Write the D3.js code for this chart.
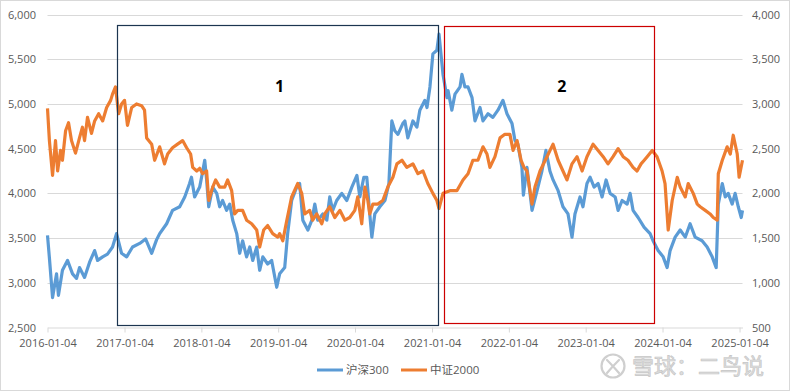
<!DOCTYPE html>
<html>
<head>
<meta charset="utf-8">
<script src="https://cdn.jsdelivr.net/npm/d3@7"></script>
<style>
body { margin: 0; background: #fff; }
text { font-family: "Open Sans", "Noto Sans CJK SC", sans-serif; }
</style>
</head>
<body>
<svg id="chart" width="790" height="391"></svg>
<script>
// 沪深300 (left axis)
var hs300Dates = ["2016-01-04","2016-01-13","2016-01-28","2016-02-16","2016-02-25","2016-03-15","2016-04-08","2016-05-02","2016-05-21","2016-06-04","2016-06-28","2016-07-22","2016-08-15","2016-08-29","2016-09-22","2016-10-15","2016-11-08","2016-11-27","2016-12-21","2017-01-14","2017-02-11","2017-03-17","2017-04-14","2017-05-13","2017-06-05","2017-06-20","2017-07-23","2017-08-20","2017-09-23","2017-10-17","2017-11-09","2017-11-18","2017-12-03","2017-12-27","2018-01-05","2018-01-20","2018-01-29","2018-02-08","2018-02-27","2018-03-18","2018-04-01","2018-04-15","2018-05-04","2018-05-19","2018-06-02","2018-06-21","2018-07-05","2018-07-19","2018-08-07","2018-08-22","2018-09-05","2018-09-24","2018-10-08","2018-10-23","2018-11-15","2018-12-04","2018-12-28","2019-01-11","2019-02-04","2019-02-18","2019-03-09","2019-04-02","2019-04-16","2019-05-01","2019-05-25","2019-06-13","2019-06-27","2019-07-11","2019-08-04","2019-08-23","2019-09-06","2019-09-20","2019-10-09","2019-11-02","2019-11-26","2019-12-20","2020-01-13","2020-01-27","2020-02-15","2020-02-29","2020-03-14","2020-03-24","2020-04-07","2020-05-01","2020-05-25","2020-06-13","2020-06-27","2020-07-11","2020-07-26","2020-08-18","2020-08-28","2020-09-11","2020-10-05","2020-10-24","2020-11-07","2020-12-01","2020-12-11","2020-12-25","2021-01-08","2021-01-27","2021-02-06","2021-02-20","2021-02-25","2021-03-16","2021-03-21","2021-04-08","2021-04-23","2021-05-17","2021-05-26","2021-06-09","2021-06-24","2021-07-13","2021-07-27","2021-08-20","2021-09-03","2021-09-27","2021-10-20","2021-11-13","2021-12-07","2021-12-26","2022-01-19","2022-02-02","2022-02-16","2022-03-07","2022-03-14","2022-03-31","2022-04-24","2022-05-18","2022-06-10","2022-06-29","2022-07-18","2022-08-02","2022-08-26","2022-09-18","2022-10-12","2022-10-31","2022-11-14","2022-12-08","2022-12-22","2023-01-10","2023-01-25","2023-02-13","2023-03-04","2023-03-23","2023-04-11","2023-04-30","2023-05-24","2023-06-07","2023-06-26","2023-07-20","2023-08-03","2023-08-17","2023-09-10","2023-10-09","2023-11-06","2023-11-20","2023-12-14","2024-01-07","2024-01-26","2024-02-09","2024-03-04","2024-03-28","2024-04-21","2024-05-14","2024-06-07","2024-07-10","2024-08-03","2024-08-27","2024-09-15","2024-09-25","2024-10-14","2024-10-28","2024-11-11","2024-11-30","2024-12-14","2024-12-29","2025-01-12","2025-01-18"];
var hs300Values = [3530,3280,2835,3100,2860,3140,3250,3100,3050,3170,3060,3230,3360,3250,3290,3320,3400,3550,3330,3290,3400,3440,3490,3330,3480,3550,3660,3810,3850,3960,4110,4180,3960,4070,4180,4370,4150,3850,4070,4000,3850,3920,3810,3880,3700,3550,3330,3470,3290,3400,3250,3400,3140,3290,3210,3250,2950,3100,3170,3550,3920,4070,4110,3700,3590,3700,3880,3700,3770,3700,3960,3810,3920,4000,3920,4070,4200,3960,4180,4180,3770,3510,3770,3850,3920,4110,4810,4700,4660,4780,4810,4620,4810,4740,4930,5040,4960,5190,5560,5600,5780,5450,5330,5070,5150,4930,5110,5190,5330,5190,5190,5070,4810,4960,4810,4890,4850,4930,5040,4890,4780,4590,4550,4290,3980,4290,3810,4030,4250,4480,4250,4150,4030,3850,3770,3510,3770,3960,3850,4110,4180,4070,4110,3960,4150,4000,3960,3810,3920,3880,4000,3810,3730,3620,3550,3470,3360,3290,3170,3360,3510,3590,3510,3660,3510,3470,3400,3290,3170,3880,4110,3960,4000,3880,4000,3850,3730,3810];

// 中证2000 (right axis)
var zz2000Dates = ["2016-01-04","2016-01-13","2016-01-28","2016-02-11","2016-02-21","2016-03-06","2016-03-15","2016-03-30","2016-04-13","2016-04-27","2016-05-16","2016-06-04","2016-06-18","2016-06-28","2016-07-12","2016-07-31","2016-08-15","2016-09-03","2016-09-22","2016-10-11","2016-10-30","2016-11-08","2016-11-22","2016-12-07","2016-12-21","2017-01-04","2017-01-18","2017-02-07","2017-03-02","2017-03-26","2017-04-09","2017-04-19","2017-05-13","2017-05-27","2017-06-20","2017-07-13","2017-07-28","2017-08-20","2017-09-13","2017-10-07","2017-10-26","2017-11-14","2017-11-24","2017-12-13","2017-12-27","2018-01-10","2018-01-29","2018-02-08","2018-02-27","2018-03-13","2018-04-01","2018-04-25","2018-05-09","2018-05-28","2018-06-11","2018-06-26","2018-07-19","2018-08-07","2018-08-31","2018-09-24","2018-10-08","2018-10-27","2018-11-15","2018-12-09","2019-01-02","2019-01-11","2019-01-26","2019-02-14","2019-03-09","2019-04-07","2019-04-26","2019-05-10","2019-06-03","2019-06-17","2019-07-06","2019-07-30","2019-08-13","2019-09-06","2019-09-30","2019-10-24","2019-11-17","2019-12-10","2020-01-03","2020-01-17","2020-02-05","2020-02-20","2020-03-05","2020-03-14","2020-03-29","2020-04-21","2020-05-15","2020-06-08","2020-07-02","2020-07-21","2020-08-14","2020-09-06","2020-10-05","2020-10-29","2020-11-22","2020-12-15","2021-01-08","2021-01-27","2021-02-06","2021-02-25","2021-03-30","2021-05-02","2021-05-31","2021-06-24","2021-07-17","2021-08-10","2021-09-03","2021-09-22","2021-10-06","2021-10-30","2021-11-23","2021-12-16","2022-01-09","2022-01-24","2022-02-12","2022-03-03","2022-03-17","2022-03-31","2022-04-24","2022-05-08","2022-06-01","2022-07-04","2022-08-02","2022-08-26","2022-09-18","2022-10-07","2022-10-31","2022-11-24","2022-12-18","2023-01-10","2023-02-08","2023-03-04","2023-03-28","2023-04-20","2023-05-14","2023-06-07","2023-07-01","2023-07-24","2023-08-17","2023-09-05","2023-09-24","2023-10-09","2023-10-23","2023-11-16","2023-12-09","2024-01-02","2024-01-16","2024-01-31","2024-02-19","2024-03-14","2024-03-28","2024-04-21","2024-05-05","2024-05-29","2024-06-17","2024-07-01","2024-07-25","2024-08-17","2024-09-01","2024-09-20","2024-09-25","2024-10-14","2024-11-06","2024-11-21","2024-12-05","2024-12-24","2025-01-02","2025-01-18"];
var zz2000Values = [2950,2590,2200,2590,2250,2480,2370,2700,2790,2590,2450,2620,2740,2590,2850,2670,2810,2890,2810,2960,3040,3110,3190,2890,3000,3040,2760,2960,3000,2980,2930,2620,2550,2370,2520,2330,2440,2510,2550,2590,2510,2440,2290,2250,2280,2220,2250,1920,2070,2150,2070,2070,2150,2030,1770,1810,1810,1700,1660,1590,1400,1590,1640,1550,1510,1550,1470,1700,1960,2110,2000,1770,1810,1700,1770,1660,1770,1850,1730,1810,1700,1730,1810,1960,1660,2070,1920,1770,1880,1880,1920,2070,2180,2330,2370,2290,2330,2220,2250,2110,2000,1920,1830,2000,2030,2030,2150,2220,2370,2370,2520,2440,2290,2410,2620,2660,2660,2480,2590,2370,2290,2250,1880,2070,2250,2410,2550,2370,2250,2150,2330,2410,2250,2410,2550,2480,2410,2330,2410,2500,2410,2370,2290,2250,2330,2370,2410,2480,2410,2250,2110,1590,1920,2180,2070,1960,2110,2000,1880,1850,1810,1770,1730,1700,2220,2370,2520,2440,2650,2440,2180,2370];

var leftTicks = [2500, 3000, 3500, 4000, 4500, 5000, 5500, 6000];
var rightTicks = [500, 1000, 1500, 2000, 2500, 3000, 3500, 4000];
var xTickDates = ["2016-01-04","2017-01-04","2018-01-04","2019-01-04","2020-01-04","2021-01-04","2022-01-04","2023-01-04","2024-01-04","2025-01-04"];
var xDomain = ["2016-01-04", "2025-01-18"];

// highlighted periods (left-axis units)
var boxes = [
    {from: "2016-11-29", to: "2021-02-03", top: 5880, bottom: 2530, color: "#1c3550", label: "1", labelDate: "2019-01-11"},
    {from: "2021-03-04", to: "2023-11-27", top: 5870, bottom: 2550, color: "#cc0000", label: "2", labelDate: "2022-09-13"}
];
var labelValue = 5200;

var parse = d3.timeParse("%Y-%m-%d");
var fmt = d3.timeFormat("%Y-%m-%d");

var svg = d3.select("#chart");
var plotLeft = 47.5, plotRight = 742.5, plotTop = 14.5, plotBottom = 327.5;

svg.append("rect")
    .attr("x", 0.5).attr("y", 0.5)
    .attr("width", 789).attr("height", 390)
    .attr("fill", "#fff")
    .attr("stroke", "#d9d9d9");

var x = d3.scaleTime()
    .domain(xDomain.map(parse))
    .range([plotLeft, plotRight]);
var yLeft = d3.scaleLinear().domain([2500, 6000]).range([plotBottom, plotTop]);
var yRight = d3.scaleLinear().domain([500, 4000]).range([plotBottom, plotTop]);

// gridlines
svg.append("g").selectAll("line")
    .data(leftTicks.slice(1))
    .enter().append("line")
    .attr("x1", plotLeft).attr("x2", plotRight)
    .attr("y1", function (d) { return Math.round(yLeft(d)) + 0.5; })
    .attr("y2", function (d) { return Math.round(yLeft(d)) + 0.5; })
    .attr("stroke", "#d9d9d9");

// x axis
var xAxis = svg.append("g")
    .attr("transform", "translate(0," + plotBottom + ")")
    .call(d3.axisBottom(x)
        .tickValues(xTickDates.map(parse))
        .tickFormat(fmt)
        .tickSize(5)
        .tickSizeOuter(0)
        .tickPadding(7));
xAxis.select(".domain").attr("stroke", "#d9d9d9");
xAxis.selectAll(".tick line").attr("stroke", "#d9d9d9");
xAxis.selectAll("text").attr("fill", "#595959").style("font-size", "11px");

// left axis
var yAxisL = svg.append("g")
    .attr("transform", "translate(" + plotLeft + ",0)")
    .call(d3.axisLeft(yLeft).tickValues(leftTicks).tickFormat(d3.format(",")).tickSize(0).tickPadding(11.5));
yAxisL.select(".domain").remove();
yAxisL.selectAll("text").attr("fill", "#595959").style("font-size", "11px");

// right axis
var yAxisR = svg.append("g")
    .attr("transform", "translate(" + plotRight + ",0)")
    .call(d3.axisRight(yRight).tickValues(rightTicks).tickFormat(d3.format(",")).tickSize(0).tickPadding(9.5));
yAxisR.select(".domain").remove();
yAxisR.selectAll("text").attr("fill", "#595959").style("font-size", "11px");

// series
var hs300 = hs300Dates.map(function (d, i) { return {date: parse(d), v: hs300Values[i]}; });
var zz2000 = zz2000Dates.map(function (d, i) { return {date: parse(d), v: zz2000Values[i]}; });

var lineL = d3.line()
    .x(function (d) { return x(d.date); })
    .y(function (d) { return yLeft(d.v); });
var lineR = d3.line()
    .x(function (d) { return x(d.date); })
    .y(function (d) { return yRight(d.v); });

svg.append("path").datum(hs300)
    .attr("d", lineL)
    .attr("fill", "none")
    .attr("stroke", "#5b9bd5")
    .attr("stroke-width", 3.2)
    .attr("stroke-linejoin", "round");

svg.append("path").datum(zz2000)
    .attr("d", lineR)
    .attr("fill", "none")
    .attr("stroke", "#ed7d31")
    .attr("stroke-width", 3.2)
    .attr("stroke-linejoin", "round");

// boxes
var box = svg.append("g").selectAll("g")
    .data(boxes)
    .enter().append("g");
box.append("rect")
    .attr("x", function (d) { return Math.round(x(parse(d.from))) + 0.5; })
    .attr("y", function (d) { return Math.round(yLeft(d.top)) + 0.5; })
    .attr("width", function (d) { return Math.round(x(parse(d.to)) - x(parse(d.from))); })
    .attr("height", function (d) { return Math.round(yLeft(d.bottom) - yLeft(d.top)); })
    .attr("fill", "none")
    .attr("stroke", function (d) { return d.color; })
    .attr("stroke-width", 1.2);
box.append("text")
    .attr("x", function (d) { return x(parse(d.labelDate)); })
    .attr("y", yLeft(labelValue))
    .attr("text-anchor", "middle")
    .attr("dy", "0.35em")
    .attr("fill", "#000")
    .style("font-size", "16px")
    .style("font-weight", "bold")
    .text(function (d) { return d.label; });

// legend
var legendItems = [
    {name: "沪深300", color: "#5b9bd5", x: 317},
    {name: "中证2000", color: "#ed7d31", x: 401}
];
var legend = svg.append("g").selectAll("g")
    .data(legendItems)
    .enter().append("g")
    .attr("transform", function (d) { return "translate(" + d.x + ",370)"; });
legend.append("line")
    .attr("x1", 0).attr("x2", 26)
    .attr("stroke", function (d) { return d.color; })
    .attr("stroke-width", 3);
legend.append("text")
    .attr("x", 29)
    .attr("dy", "0.35em")
    .attr("fill", "#595959")
    .style("font-size", "11.5px")
    .text(function (d) { return d.name; });

// watermark
var wm = svg.append("g").attr("transform", "translate(613,366)");
wm.append("circle")
    .attr("r", 11.5)
    .attr("fill", "none")
    .attr("stroke", "#cfcfcf")
    .attr("stroke-width", 2.2);
wm.append("path")
    .attr("d", "M-6,-6 Q0,0 6,7 M6,-6 Q-1,1 -6,7")
    .attr("fill", "none")
    .attr("stroke", "#cfcfcf")
    .attr("stroke-width", 2.2)
    .attr("stroke-linecap", "round");
wm.append("text")
    .attr("x", 19)
    .attr("dy", "0.36em")
    .attr("fill", "#dedede")
    .attr("stroke", "#c6c6c6")
    .attr("stroke-width", 0.7)
    .style("font-size", "22px")
    .text("雪球：二鸟说");
</script>
</body>
</html>
